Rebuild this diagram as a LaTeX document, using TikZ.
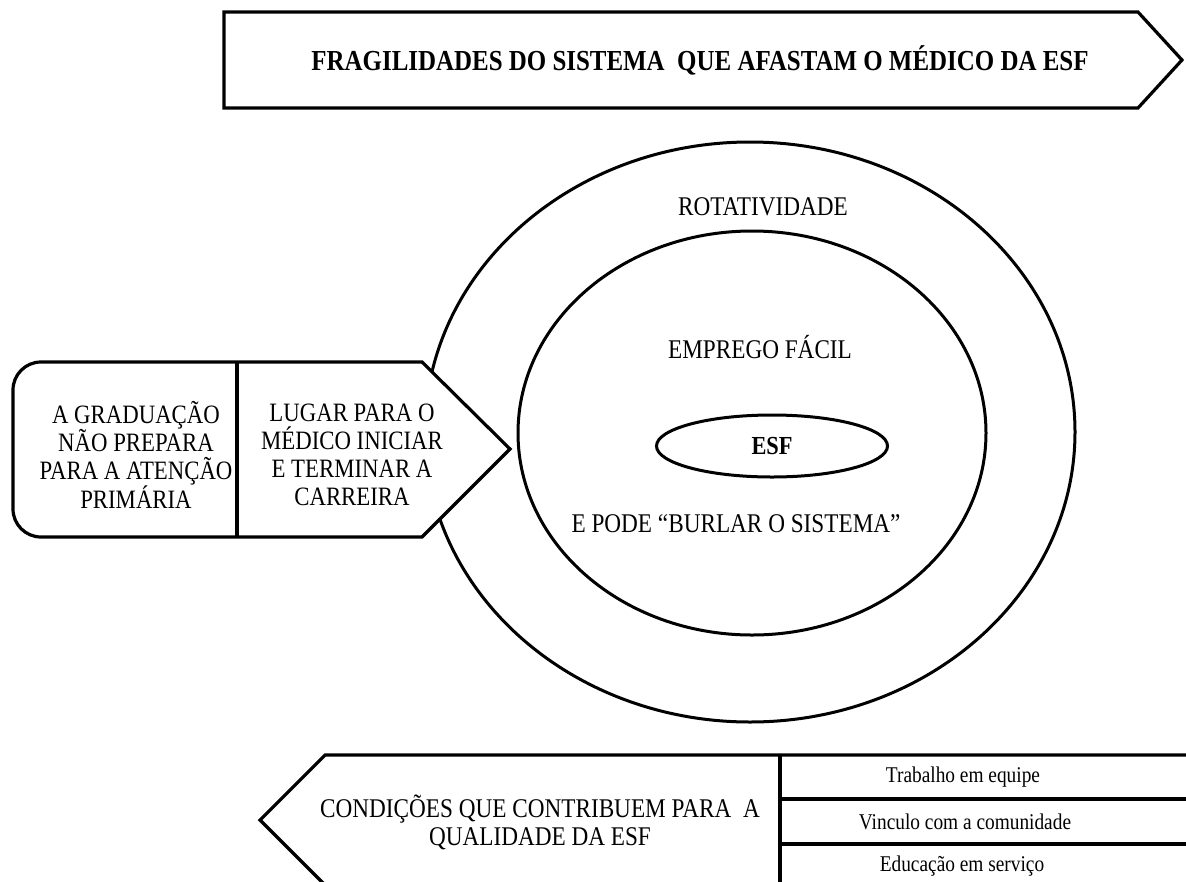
\documentclass[tikz,border=0pt]{standalone}
\usepackage{fontspec}
\setmainfont{Liberation Serif}[FakeStretch=0.86]
\usetikzlibrary{positioning}
\usetikzlibrary{shapes.geometric}

\begin{document}
\begin{tikzpicture}[x=1pt,y=-1pt]
% coordinates are pixels of the page, y running downwards

	 \tikzstyle{outline}=[draw,line width=3.2pt,line join=miter]
	 \tikzstyle{ring}=[draw,line width=3pt,ellipse,inner sep=0pt]
	 \tikzstyle{bigcaps}=[font=\fontsize{27}{28}\selectfont,align=center,inner sep=0pt]
	 \tikzstyle{boxcaps}=[font=\fontsize{26.5}{28}\selectfont,align=center,inner sep=0pt]
	 \tikzstyle{titlecaps}=[font=\fontsize{29}{30}\selectfont\bfseries,inner sep=0pt]
	 \tikzstyle{rowtext}=[font=\fontsize{22.5}{25}\selectfont,inner sep=0pt]
	 \useasboundingbox (0,0) rectangle (1186,881);

	 % top arrow
	 \draw[outline] (224,12) -- (1138,12) -- (1182,60) -- (1138,108) -- (224,108) -- cycle;
	 \node[titlecaps] (fragil) at (700,60) {FRAGILIDADES DO SISTEMA\ \ QUE AFASTAM O MÉDICO DA ESF};

	 % rings
	 \node[ring,minimum width=650pt,minimum height=580pt] (rotat) at (750,432) {};
	 \node[ring,minimum width=468pt,minimum height=404pt] (emprego) at (752,433) {};
	 \node[ring,minimum width=231pt,minimum height=62pt,font=\fontsize{26}{28}\selectfont\bfseries] (esf) at (772,446) {ESF};
	 \node[bigcaps,anchor=base] (rotlabel) at (763,215) {ROTATIVIDADE};
	 \node[bigcaps,anchor=base] (emplabel) at (760,358) {EMPREGO FÁCIL};
	 \node[bigcaps,anchor=base] (burlar) at (736,532) {E PODE “BURLAR O SISTEMA”};

	 % left box
	 \coordinate (gtop) at (237,362);
	 \coordinate (gbot) at (237,537);
	 \draw[outline,fill=white] (gtop) -- (422,362) -- (510,449) -- (422,537) -- (gbot)
	   [rounded corners=28] -- (13,537) -- (13,362) [sharp corners] -- cycle;
	 \draw[outline] (gtop) -- (gbot);
	 \node[boxcaps] (grad) at (136,455) {A GRADUAÇÃO\\NÃO PREPARA\\PARA A ATENÇÃO\\PRIMÁRIA};
	 \node[boxcaps] (lugar) at (352,455) {LUGAR PARA O\\MÉDICO INICIAR\\E TERMINAR A\\CARREIRA};

	 % bottom arrow
	 \coordinate (ctop) at (780,755);
	 \coordinate (cbot) at (780,895);
	 \draw[outline] (1200,755) -- (325,755) -- (260,820) -- (325,885);
	 \draw[outline] (ctop) -- (cbot);
	 \draw[outline] (780,799) -- (1200,799);
	 \draw[outline] (780,844) -- (1200,844);
	 \node[bigcaps] (cond) at (540,822) {CONDIÇÕES QUE CONTRIBUEM PARA\ \ A\\QUALIDADE DA ESF};
	 \node[rowtext] (trab) at (963,777) {Trabalho em equipe};
	 \node[rowtext] (vinc) at (965,822) {Vinculo com a comunidade};
	 \node[rowtext] (educ) at (962,866) {Educação em serviço};

\end{tikzpicture}
\end{document}
